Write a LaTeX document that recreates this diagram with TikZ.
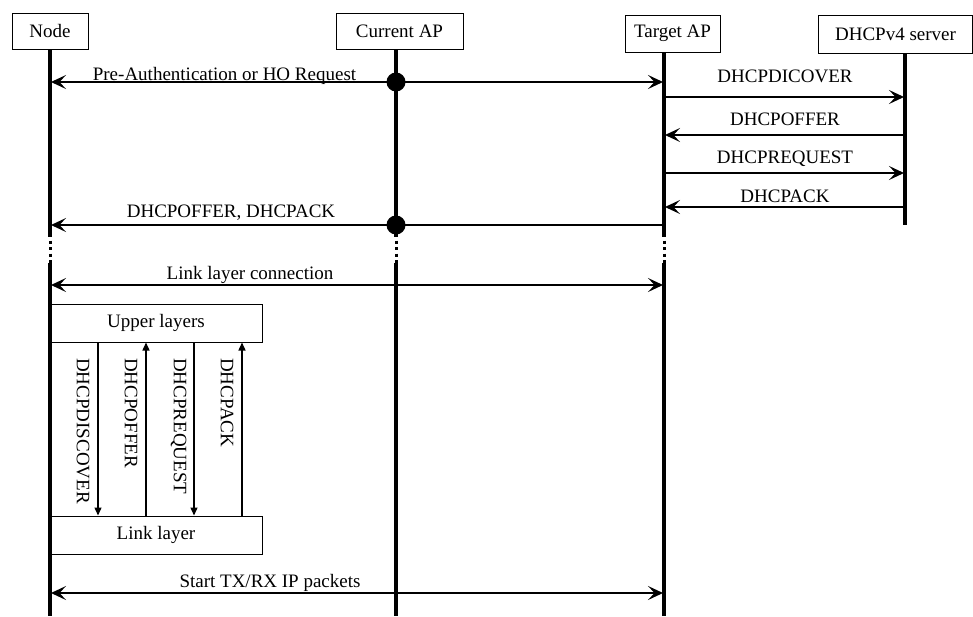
\documentclass[tikz,border=0pt]{standalone}
\usepackage{fontspec}
\setmainfont{Liberation Serif}
\usetikzlibrary{arrows.meta}
\tikzset{
  tip/.tip={Stealth[length=15pt,width=14pt,inset=6.5pt]},
  hdr/.style={draw, line width=1pt, inner sep=0pt, minimum height=36pt, fill=white},
  life/.style={line width=3.4pt},
  brk/.style={line width=3pt, dash pattern=on 3pt off 3.5pt, dash phase=3pt},
  msg/.style={line width=1.5pt, -tip, shorten >=1pt},
  bmsg/.style={line width=1.5pt, tip-tip, shorten >=1pt, shorten <=1pt},
  lbl/.style={anchor=base, inner sep=0pt},
  layer/.style={draw, line width=1pt, inner sep=0pt, minimum width=212pt, minimum height=38pt},
  vmsg/.style={line width=1.4pt, -{Triangle[length=8pt,width=7pt]}},
  vlbl/.style={rotate=-90, anchor=west, inner sep=0pt},
  dot/.style={circle, fill, inner sep=0pt, minimum size=19pt}
}
\begin{document}
\begin{tikzpicture}[x=1pt,y=-1pt, every node/.append style={font=\fontsize{19}{22}\selectfont}]
\useasboundingbox (0,0) rectangle (973,616);

% headers
\node[hdr, minimum width=76pt] (hN) at (50,31) {Node};
\node[hdr, minimum width=127pt] (hC) at (399.5,31) {Current AP};
\node[hdr, minimum width=95pt, minimum height=37pt] (hT) at (672.5,33.5) {Target AP};
\node[hdr, minimum width=154pt, minimum height=38pt] (hS) at (895.5,34) {DHCPv4 server};

% lifeline coordinates
\foreach \n/\x in {N/50,C/396,T/664}{
  \coordinate (\n top) at (\x,0);
  \coordinate (\n a) at (\x,237);
  \coordinate (\n b) at (\x,263);
  \coordinate (\n end) at (\x,616);
}
\coordinate (S top) at (905,0);
\coordinate (S end) at (905,225);

% lifelines
\foreach \n in {N,C,T}{
  \draw[life] (h\n.south -| \n top) -- (\n a);
  \draw[brk] (\n a) -- (\n b);
  \draw[life] (\n b) -- (\n end);
}
\draw[life] (hS.south -| S top) -- (S end);

% message anchor coordinates
\foreach \n/\x in {N/50,C/396,T/664,S/905}{
  \foreach \y in {82,97,135,173,207,225,285,593}{
    \coordinate (\n\y) at (\x,\y);
  }
}

% messages
\draw[bmsg] (N82) -- (T82);
\node[dot] (d1) at (C82) {};
\node[lbl] (lPA) at (224.5,80.5) {Pre-Authentication or HO Request};

\draw[msg] (T97) -- (S97);
\node[lbl] (l1) at (785,82.5) {DHCPDICOVER};
\draw[msg] (S135) -- (T135);
\node[lbl] (l2) at (785,125.5) {DHCPOFFER};
\draw[msg] (T173) -- (S173);
\node[lbl] (l3) at (785,163.5) {DHCPREQUEST};
\draw[msg] (S207) -- (T207);
\node[lbl] (l4) at (785,202.5) {DHCPACK};

\draw[msg] (T225) -- (N225);
\node[dot] (d2) at (C225) {};
\node[lbl] (l5) at (231,217.5) {DHCPOFFER, DHCPACK};

\draw[bmsg] (N285) -- (T285);
\node[lbl] (l6) at (250,279.5) {Link layer connection};

% layers
\node[layer] (uL) at (156,323) {Upper layers};
\node[layer] (lL) at (156,535) {Link layer};

\coordinate (v1) at (98,0);
\coordinate (v2) at (146,0);
\coordinate (v3) at (194,0);
\coordinate (v4) at (242,0);
\draw[vmsg] (uL.south -| v1) -- (lL.north -| v1);
\draw[vmsg] (lL.north -| v2) -- (uL.south -| v2);
\draw[vmsg] (uL.south -| v3) -- (lL.north -| v3);
\draw[vmsg] (lL.north -| v4) -- (uL.south -| v4);
\node[vlbl] (t1) at (83,358) {DHCPDISCOVER};
\node[vlbl] (t2) at (131,358) {DHCPOFFER};
\node[vlbl] (t3) at (178.5,358) {DHCPREQUEST};
\node[vlbl] (t4) at (227,358) {DHCPACK};

\draw[bmsg] (N593) -- (T593);
\node[lbl] (l7) at (270,587.5) {Start TX/RX IP packets};
\end{tikzpicture}
\end{document}
